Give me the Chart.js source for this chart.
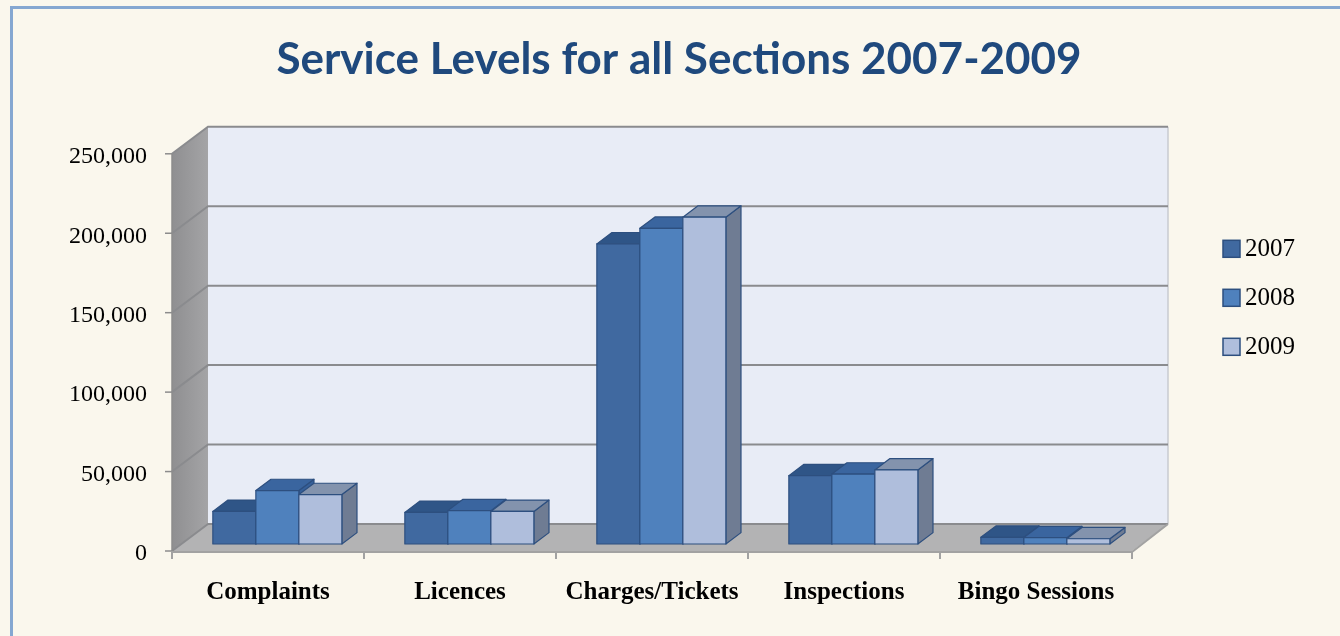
<!DOCTYPE html>
<html>
<head>
<meta charset="utf-8">
<script src="https://cdn.jsdelivr.net/npm/chart.js@4/dist/chart.umd.min.js"></script>
<style>
  html, body { margin: 0; padding: 0; background: #faf7ed; overflow: hidden; }
  #wrap { position: relative; width: 1340px; height: 636px; overflow: hidden; }
  #frame { position: absolute; left: 10px; top: 6px; width: 2000px; height: 2000px;
           border-left: 3px solid #85a7d1; border-top: 3px solid #85a7d1; pointer-events: none; }
  canvas { position: absolute; left: 0; top: 0; }
</style>
</head>
<body>
<div id="wrap">
  <canvas id="chart" width="1358" height="636"></canvas>
  <div id="frame"></div>
</div>
<script>
// Data
const categories = ['Complaints', 'Licences', 'Charges/Tickets', 'Inspections', 'Bingo Sessions'];
const yearLabels = ['2007', '2008', '2009'];
const values2007 = [20500, 19900, 188900, 43000, 4200];
const values2008 = [33600, 21000, 198700, 44000, 4000];
const values2009 = [31100, 20500, 205700, 46600, 3300];
const yTicks = [0, 50000, 100000, 150000, 200000, 250000];

// Styles
const frontColors = ['#4069a0', '#4f81bd', '#afbedc'];
const topColors = ['#2f5587', '#3a659f', '#8393ad'];
const sideColors = ['#2c4f7f', '#36609a', '#6f7c93'];
const edgeColor = '#2d4f7f';
const DEPTH = { x: 36, y: -27 };   // full wall depth
const BAR_OFFSET = 0.26;           // front face of the bars, as part of depth
const BAR_DEPTH = 0.42;

Chart.defaults.font.family = '"Liberation Serif", serif';
Chart.defaults.color = '#000';

// walls, grid and 3d boxes
const box3d = {
  id: 'box3d',
  beforeDatasetsDraw(chart) {
    const ctx = chart.ctx;
    const { left: L, right: R, top: T, bottom: B } = chart.chartArea;
    const dx = DEPTH.x, dy = DEPTH.y;
    const y = chart.scales.y, x = chart.scales.x;
    ctx.save();

    // side wall
    const g = ctx.createLinearGradient(L, 0, L + dx, 0);
    g.addColorStop(0, '#8f8f91');
    g.addColorStop(1, '#a4a4a6');
    ctx.fillStyle = g;
    ctx.beginPath();
    ctx.moveTo(L, T); ctx.lineTo(L + dx, T + dy); ctx.lineTo(L + dx, B + dy); ctx.lineTo(L, B);
    ctx.closePath(); ctx.fill();

    // back wall
    ctx.fillStyle = '#e8ecf6';
    ctx.fillRect(L + dx, T + dy, R - L, B - T);
    ctx.strokeStyle = '#c9cbd0';
    ctx.lineWidth = 1.5;
    ctx.beginPath(); ctx.moveTo(R + dx, T + dy); ctx.lineTo(R + dx, B + dy); ctx.stroke();

    // floor
    ctx.fillStyle = '#b3b3b4';
    ctx.beginPath();
    ctx.moveTo(L, B); ctx.lineTo(R, B); ctx.lineTo(R + dx, B + dy); ctx.lineTo(L + dx, B + dy);
    ctx.closePath(); ctx.fill();

    // grid lines
    ctx.strokeStyle = '#8a8b8e';
    ctx.lineWidth = 2;
    yTicks.forEach(v => {
      const py = y.getPixelForValue(v);
      ctx.beginPath();
      ctx.moveTo(L, py); ctx.lineTo(L + dx, py + dy); ctx.lineTo(R + dx, py + dy);
      ctx.stroke();
    });

    // y axis line and ticks
    ctx.lineWidth = 1.5;
    ctx.strokeStyle = '#8c8c8c';
    ctx.beginPath(); ctx.moveTo(L, T); ctx.lineTo(L, B); ctx.stroke();
    yTicks.forEach(v => {
      const py = y.getPixelForValue(v);
      ctx.beginPath(); ctx.moveTo(L - 7, py); ctx.lineTo(L, py); ctx.stroke();
    });

    // floor edges + x ticks
    ctx.strokeStyle = '#a2a2a2';
    ctx.lineWidth = 2;
    ctx.beginPath(); ctx.moveTo(L, B + 1); ctx.lineTo(R, B + 1); ctx.lineTo(R + dx, B + dy); ctx.stroke();
    const half = (x.getPixelForValue(1) - x.getPixelForValue(0)) / 2;
    for (let i = 0; i <= categories.length; i++) {
      const px = x.getPixelForValue(0) - half + i * half * 2;
      ctx.beginPath(); ctx.moveTo(px, B); ctx.lineTo(px, B + 8); ctx.stroke();
    }

    // bars
    const sx = dx * BAR_OFFSET, sy = dy * BAR_OFFSET;
    const bx = dx * BAR_DEPTH, by = dy * BAR_DEPTH;
    ctx.lineWidth = 1.2;
    ctx.strokeStyle = edgeColor;
    ctx.lineJoin = 'round';
    for (let i = 0; i < categories.length; i++) {
      chart.data.datasets.forEach((ds, j) => {
        const el = chart.getDatasetMeta(j).data[i];
        const p = el.getProps(['x', 'y', 'base', 'width'], true);
        const x0 = p.x - p.width / 2 + sx, x1 = p.x + p.width / 2 + sx;
        const yt = p.y + sy, yb = p.base + sy;
        // side
        ctx.fillStyle = sideColors[j];
        ctx.beginPath();
        ctx.moveTo(x1, yt); ctx.lineTo(x1 + bx, yt + by); ctx.lineTo(x1 + bx, yb + by); ctx.lineTo(x1, yb);
        ctx.closePath(); ctx.fill(); ctx.stroke();
        // top
        ctx.fillStyle = topColors[j];
        ctx.beginPath();
        ctx.moveTo(x0, yt); ctx.lineTo(x0 + bx, yt + by); ctx.lineTo(x1 + bx, yt + by); ctx.lineTo(x1, yt);
        ctx.closePath(); ctx.fill(); ctx.stroke();
        // front
        ctx.fillStyle = frontColors[j];
        ctx.fillRect(x0, yt, x1 - x0, yb - yt);
        ctx.strokeRect(x0, yt, x1 - x0, yb - yt);
      });
    }
    ctx.restore();
    return false; // skip flat bars
  },
  afterDraw(chart) {
    // legend
    const ctx = chart.ctx;
    const { right: R, top: T } = chart.chartArea;
    ctx.save();
    ctx.font = '25px "Liberation Serif", serif';
    ctx.textBaseline = 'middle';
    chart.data.datasets.forEach((ds, j) => {
      const cy = T + 95 + j * 49;
      const bxp = R + 91;
      ctx.fillStyle = frontColors[j];
      ctx.fillRect(bxp, cy - 8.5, 17, 17);
      ctx.strokeStyle = edgeColor;
      ctx.lineWidth = 1.5;
      ctx.strokeRect(bxp, cy - 8.5, 17, 17);
      ctx.fillStyle = '#000';
      ctx.fillText(ds.label, bxp + 22, cy + 1);
    });
    ctx.restore();
  }
};

new Chart(document.getElementById('chart'), {
  type: 'bar',
  data: {
    labels: categories,
    datasets: [
      { label: yearLabels[0], data: values2007, backgroundColor: frontColors[0] },
      { label: yearLabels[1], data: values2008, backgroundColor: frontColors[1] },
      { label: yearLabels[2], data: values2009, backgroundColor: frontColors[2] }
    ]
  },
  options: {
    responsive: false,
    animation: false,
    devicePixelRatio: 1,
    layout: { padding: { left: 0, right: 0, top: 0, bottom: 25 } },
    datasets: { bar: { categoryPercentage: 0.672, barPercentage: 1 } },
    plugins: {
      legend: { display: false },
      tooltip: { enabled: false },
      title: {
        display: true,
        text: 'Service Levels for all Sections 2007-2009',
        color: '#1f497d',
        font: { family: 'Lato', size: 44, weight: 'bold', lineHeight: 1.2 },
        padding: { top: 33, bottom: 68 }
      }
    },
    scales: {
      x: {
        grid: { display: false, drawTicks: false },
        border: { display: false },
        ticks: { font: { size: 25, weight: 'bold' }, padding: 27, maxRotation: 0, autoSkip: false },
        afterFit: s => { s.height = 60; }
      },
      y: {
        min: yTicks[0],
        max: yTicks[yTicks.length - 1],
        grid: { display: false, drawTicks: false },
        border: { display: false },
        ticks: { stepSize: yTicks[1] - yTicks[0], font: { size: 24 }, padding: 25, labelOffset: 3 },
        afterFit: s => { s.width = 172; }
      },
      // empty right axis: leaves room for walls and legend
      side: {
        type: 'linear',
        position: 'right',
        grid: { display: false, drawTicks: false },
        border: { display: false },
        ticks: { display: false },
        afterFit: s => { s.width = 226; }
      }
    }
  },
  plugins: [box3d]
});
</script>
</body>
</html>
